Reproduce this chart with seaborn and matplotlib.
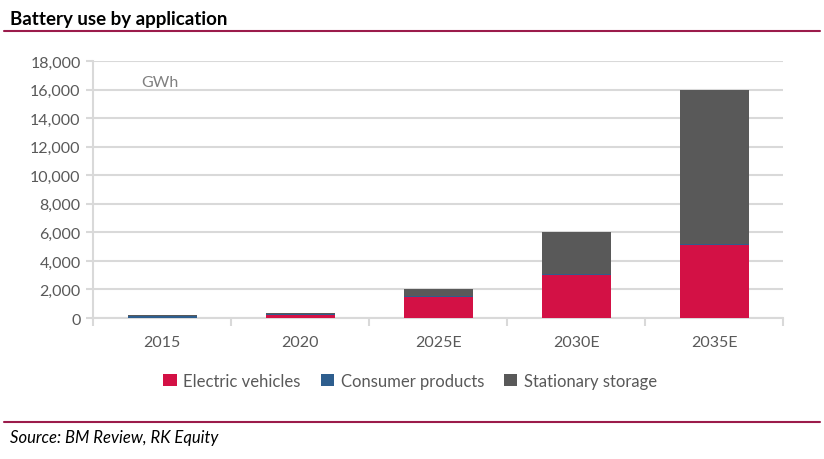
import matplotlib.pyplot as plt
import numpy as np
import pandas as pd
import seaborn as sns

years = ["2015", "2020", "2025E", "2030E", "2035E"]
electric_vehicles = [20, 200, 1450, 3000, 5100]
consumer_products = [150, 80, 60, 70, 70]
stationary_storage = [10, 70, 490, 2930, 10830]

sns.set_style("white")
plt.rcParams["font.family"] = ["Lato", "DejaVu Sans"]

df = pd.DataFrame({
    "year": years,
    "Electric vehicles": electric_vehicles,
    "Consumer products": consumer_products,
    "Stationary storage": stationary_storage,
})

colors = {
    "Electric vehicles": "#D31145",
    "Consumer products": "#2E5E8E",
    "Stationary storage": "#595959",
}

fig = plt.figure(figsize=(8.24, 4.6), dpi=100)
ax = fig.add_axes([0.113, 0.3065, 0.8374, 0.5587])

bottom = np.zeros(len(years))
for name in ["Electric vehicles", "Consumer products", "Stationary storage"]:
    sns.barplot(
        data=df, x="year", y=name, ax=ax, color=colors[name],
        bottom=bottom, width=0.5, label=name, saturation=1,
        linewidth=0, zorder=3,
    )
    bottom = bottom + df[name].to_numpy()

handles, labels = ax.get_legend_handles_labels()
if ax.get_legend() is not None:
    ax.get_legend().remove()

grey = "#595959"
ax.set_ylim(0, 18000)
ax.set_xlim(-0.5, len(years) - 0.5)
ax.set_yticks(np.arange(0, 18001, 2000))
ax.set_yticklabels([f"{v:,}" for v in range(0, 18001, 2000)])
ax.yaxis.grid(True, color="#D9D9D9", linewidth=1.5, zorder=0)
ax.set_axisbelow(True)
for side in ["top", "right"]:
    ax.spines[side].set_visible(False)
ax.spines["left"].set_color("#D9D9D9")
ax.spines["left"].set_linewidth(1.5)
ax.spines["bottom"].set_color("#D9D9D9")
ax.spines["bottom"].set_linewidth(1.5)
ax.tick_params(axis="y", colors="#D9D9D9", labelsize=11.5, length=5,
               width=1.5, left=True, pad=4, labelcolor=grey)
ax.tick_params(axis="x", labelsize=11.5, labelcolor=grey, length=0, pad=12)
ax.set_xticks(np.arange(-0.5, len(years), 1), minor=True)
ax.tick_params(axis="x", which="minor", length=6, width=1.5, color="#D9D9D9",
               bottom=True)
ax.set_xlabel("")
ax.set_ylabel("")
ax.text(0.07, 0.945, "GWh", transform=ax.transAxes, color="#808080",
        fontsize=11.5, va="top")

fig.legend(handles, labels, loc="center", bbox_to_anchor=(0.498, 0.17),
           ncol=3, frameon=False, fontsize=12, handlelength=0.8,
           handleheight=0.8, columnspacing=1.2, handletextpad=0.4,
           labelcolor=grey)

fig.text(0.012, 0.958, "Battery use by application", fontsize=13.5,
         fontweight="bold", color="black", va="center")
fig.add_artist(plt.Line2D([0.005, 0.995], [0.931, 0.931], color="#9B1B4B",
                          linewidth=1.5))
fig.add_artist(plt.Line2D([0.005, 0.995], [0.081, 0.081], color="#9B1B4B",
                          linewidth=1.5))
fig.text(0.012, 0.048, "Source: BM Review, RK Equity", fontsize=12,
         fontstyle="italic", color="black", va="center")

plt.savefig("out.png", dpi=100)
